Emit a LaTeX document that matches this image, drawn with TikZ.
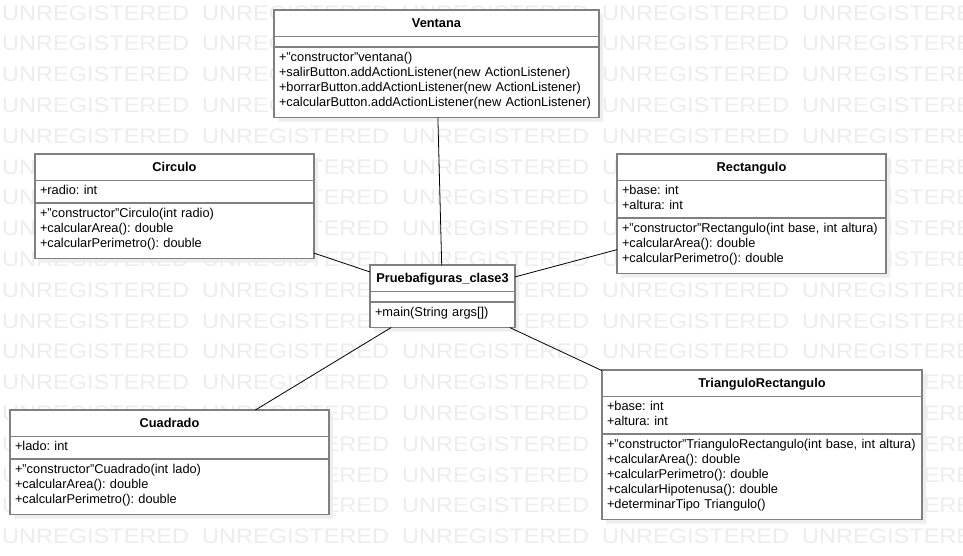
\documentclass[tikz,border=0pt]{standalone}
\usepackage{fontspec}
\setmainfont{Liberation Sans}
\usetikzlibrary{shapes.multipart,shadows}
\definecolor{umlgray}{RGB}{128,128,128}
\definecolor{wmgray}{RGB}{237,237,237}
\definecolor{shadegray}{RGB}{238,238,238}
\tikzset{
  umlclass/.style={rectangle split, rectangle split parts=3, draw=umlgray, line width=1.5pt, fill=white,
                   anchor=north west, align=left, inner xsep=5pt, inner ysep=3pt, outer sep=0pt,
                   font=\fontsize{12.8}{15}\selectfont\frenchspacing,
                   drop shadow={shadow xshift=4pt, shadow yshift=-4pt, fill=shadegray, opacity=1}},
  wmark/.style={anchor=base west, inner sep=0pt, text=wmgray, font=\fontsize{21}{21}\selectfont, xscale=1.12},
  assoc/.style={draw, line width=0.8pt}
}
\newcommand{\ttl}[1]{\hbox to\hsize{\hss\rule[-5pt]{0pt}{19pt}\textbf{#1}\hss}}
\newcommand{\pad}{\rule[-7.5pt]{0pt}{7.5pt}}
\newcommand{\nada}{\rule{0pt}{3pt}}

\begin{document}
\begin{tikzpicture}[x=1pt, y=-1pt]
\useasboundingbox[fill=white] (0,0) rectangle (963,555);
\clip (0,0) rectangle (963,555);
% watermark
\foreach \r in {0,...,17}
  \foreach \c in {0,...,4}
    \node[wmark] (wm-\r-\c) at ({2+200*\c},{20+30.8*\r}) {UNREGISTERED};

\node[umlclass, text width=315pt] (ventana) at (274,10)
  {\ttl{Ventana}\nodepart{two}\nada
   \nodepart{three}\strut+"constructor"ventana()\\\strut+salirButton.addActionListener(new ActionListener)\\
   \strut+borrarButton.addActionListener(new ActionListener)\\\strut+calcularButton.addActionListener(new ActionListener)\pad};
\node[umlclass, text width=269pt] (circulo) at (35,154)
  {\ttl{Circulo}\nodepart{two}\strut+radio: int
   \nodepart{three}\strut+"constructor"Circulo(int radio)\\\strut+calcularArea(): double\\\strut+calcularPerimetro(): double\pad};
\node[umlclass, text width=259pt] (rectangulo) at (617,154)
  {\ttl{Rectangulo}\nodepart{two}\strut+base: int\\\strut+altura: int
   \nodepart{three}\strut+"constructor"Rectangulo(int base, int altura)\\\strut+calcularArea(): double\\\strut+calcularPerimetro(): double\pad};
\node[umlclass, text width=135pt] (prueba) at (370,265)
  {\ttl{Pruebafiguras\_clase3}\nodepart{two}\nada
   \nodepart{three}\strut+main(String args[])\pad};
\node[umlclass, text width=309pt] (cuadrado) at (10,410)
  {\ttl{Cuadrado}\nodepart{two}\strut+lado: int
   \nodepart{three}\strut+"constructor"Cuadrado(int lado)\\\strut+calcularArea(): double\\\strut+calcularPerimetro(): double\pad};
\node[umlclass, text width=310pt] (triangulo) at (602,370)
  {\ttl{TrianguloRectangulo}\nodepart{two}\strut+base: int\\\strut+altura: int
   \nodepart{three}\strut+"constructor"TrianguloRectangulo(int base, int altura)\\\strut+calcularArea(): double\\
   \strut+calcularPerimetro(): double\\\strut+calcularHipotenusa(): double\\\strut+determinarTipo Triangulo()\pad};

\draw[assoc] (ventana) -- (prueba);
\draw[assoc] (circulo) -- (prueba);
\draw[assoc] (rectangulo) -- (prueba);
\draw[assoc] (cuadrado) -- (prueba);
\draw[assoc] (triangulo) -- (prueba);
\end{tikzpicture}
\end{document}
